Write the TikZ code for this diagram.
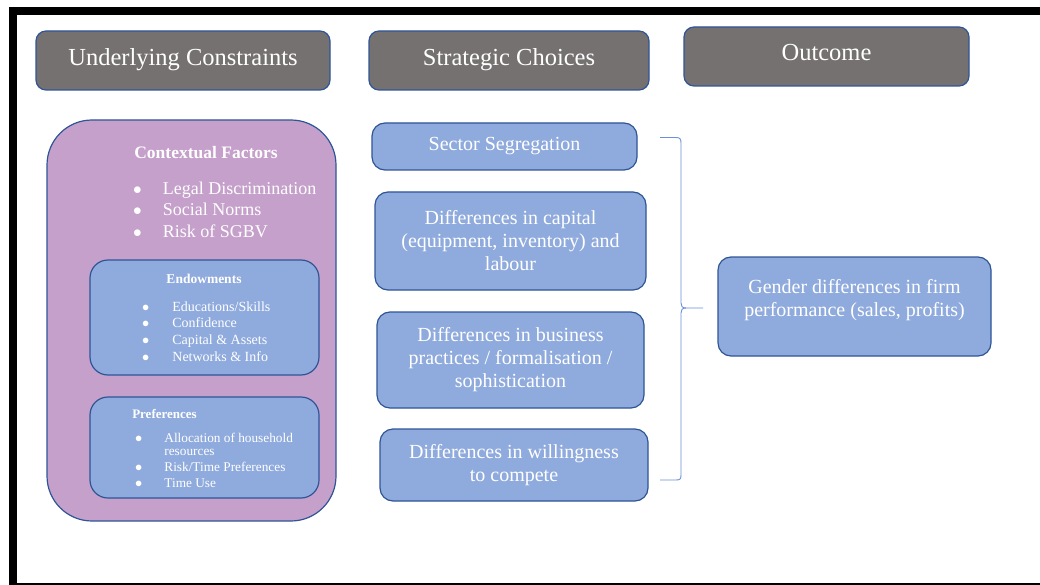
\documentclass[tikz,border=0pt]{standalone}
\usepackage{fontspec}
\setmainfont{Liberation Serif}
\definecolor{hdrgray}{HTML}{767171}
\definecolor{boxline}{HTML}{2F5597}
\definecolor{boxblue}{HTML}{8FAADC}
\definecolor{ctxpurple}{HTML}{C5A0CB}
\definecolor{bracecol}{HTML}{6A8ED8}
\newcommand{\bigbul}{$\bullet$}
\begin{document}
\begin{tikzpicture}[x=1pt,y=-1pt,
  hdr/.style={draw=boxline,line width=1.2pt,fill=hdrgray,rounded corners=10pt,inner sep=0pt,text=white,font=\fontsize{24.5}{28}\selectfont},
  box/.style={draw=boxline,line width=1.2pt,fill=boxblue,rounded corners=13pt,inner sep=0pt,text=white,align=center,font=\fontsize{20}{23}\selectfont},
  ctxbox/.style={draw=boxline,line width=1.2pt,fill=ctxpurple,rounded corners=45pt,inner sep=0pt},
  subbox/.style={draw=boxline,line width=1.2pt,fill=boxblue,rounded corners=18pt,inner sep=0pt},
  wtext/.style={text=white,inner sep=0pt},
  brace/.style={draw=bracecol,line width=0.9pt}
]
\useasboundingbox (0,0) rectangle (1040,585);
% frame
\fill[black] (9,7) rectangle (1040,15.5);
\fill[black] (9,7) rectangle (17,585);
\fill[black] (9,582.5) rectangle (1040,585);

% headers
\node[hdr,minimum width=294pt,minimum height=59pt] (h1) at (183,60.5) {\raisebox{6pt}{Underlying Constraints}};
\node[hdr,minimum width=280pt,minimum height=59pt] (h2) at (509,60.5) {\raisebox{6pt}{Strategic Choices}};
\node[hdr,minimum width=285pt,minimum height=59pt] (h3) at (826.5,56.5) {\raisebox{8pt}{Outcome}};

% contextual factors
\node[ctxbox,minimum width=289pt,minimum height=401pt] (ctx) at (191.5,320.5) {};
\node[wtext,font=\bfseries\fontsize{17.5}{20}\selectfont] (ctxt) at (206,153) {Contextual Factors};
\node[wtext,anchor=west,font=\fontsize{18}{21.5}\selectfont] (ctxl) at (133,211.5)
  {\begin{tabular}{@{}l@{\hspace{21pt}}l@{}}\bigbul & Legal Discrimination\\ \bigbul & Social Norms\\ \bigbul & Risk of SGBV\end{tabular}};

\node[subbox,minimum width=229pt,minimum height=115pt] (end) at (204.5,317.5) {};
\node[wtext,font=\bfseries\fontsize{13.5}{15}\selectfont] (endt) at (204,279) {Endowments};
\node[wtext,anchor=west,font=\fontsize{14}{16.7}\selectfont] (endl) at (142,333)
  {\begin{tabular}{@{}l@{\hspace{23pt}}l@{}}\bigbul & Educations/Skills\\ \bigbul & Confidence\\ \bigbul & Capital \& Assets\\ \bigbul & Networks \& Info\end{tabular}};

\node[subbox,minimum width=229pt,minimum height=101pt] (pref) at (204.5,447.5) {};
\node[wtext,font=\bfseries\fontsize{13}{15}\selectfont] (preft) at (164.5,414) {Preferences};
\node[wtext,anchor=west,font=\fontsize{13.3}{13}\selectfont] (prefl) at (135,462.5)
  {\begin{tabular}{@{}l@{\hspace{22pt}}l@{}}\bigbul & Allocation of household\\ & resources\\[3pt] \bigbul & Risk/Time Preferences\\[3pt] \bigbul & Time Use\end{tabular}};

% strategic choices
\node[box,minimum width=265pt,minimum height=47pt] (seg) at (504.5,146.5) {Sector Segregation};
\node[box,minimum width=271pt,minimum height=98pt] (cap) at (510.5,241) {Differences in capital\\(equipment, inventory) and\\labour};
\node[box,minimum width=267pt,minimum height=96pt] (bus) at (510.5,360) {Differences in business\\practices / formalisation /\\sophistication};
\node[box,minimum width=268pt,minimum height=72pt] (wil) at (514,465) {Differences in willingness\\to compete};

% outcome
\node[box,minimum width=273pt,minimum height=99pt] (out) at (854.5,306.5) {};
\node[wtext,align=center,font=\fontsize{20}{23}\selectfont] (outt) at (854.5,300) {Gender differences in firm\\performance (sales, profits)};

% brace
\coordinate (btop) at (660,137.5);
\coordinate (bbot) at (660,480);
\coordinate (btip) at (703,308);
\draw[brace] (btop) -- (676,137.5) .. controls (680,137.5) and (681,139) .. (681,143) -- (681,303)
  .. controls (681,306) and (682,308) .. (686,308) -- (btip);
\draw[brace] (686,308) .. controls (682,308) and (681,310) .. (681,313) -- (681,475)
  .. controls (681,479) and (680,480) .. (676,480) -- (bbot);
\end{tikzpicture}
\end{document}
